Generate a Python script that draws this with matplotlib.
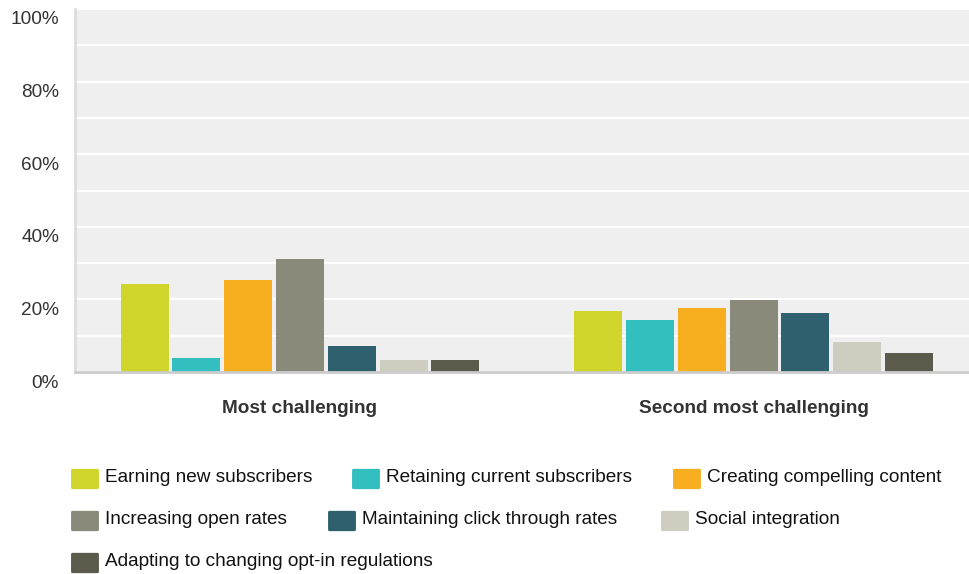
import numpy as np
import matplotlib
matplotlib.use('Agg')
import matplotlib.pyplot as plt
from matplotlib.patches import FancyBboxPatch
from matplotlib.transforms import ScaledTranslation

plt.rcParams['font.family'] = ['Liberation Sans', 'DejaVu Sans']

### DATA
groups = ['Most challenging', 'Second most challenging']
series = ['Earning new subscribers', 'Retaining current subscribers', 'Creating compelling content',
          'Increasing open rates', 'Maintaining click through rates', 'Social integration',
          'Adapting to changing opt-in regulations']
most = [24.3, 3.9, 25.4, 31.2, 7.2, 3.4, 3.4]
second = [16.9, 14.4, 17.7, 19.9, 16.3, 8.3, 5.3]
colors = ['#cfd52a', '#33bec0', '#f7ae1f', '#8a8a7a', '#2e606e', '#cecdc0', '#5c5a4b']

W, H = 969, 574
fs = 13.7
fig = plt.figure(figsize=(W/100, H/100), dpi=100)
ax = fig.add_axes([75/W, (H-372)/H, (W-75)/W, 363/H])
ax.set_facecolor('#efefef')

x = np.arange(len(groups))
pitch = 0.1142
bw = 0.106
for i, name in enumerate(series):
    vals = [most[i], second[i]]
    ax.bar(x + (i-3)*pitch, vals, width=bw, color=colors[i], zorder=3)

ax.set_xlim(-0.496, 1.475)
ax.set_ylim(0, 100)
ax.set_yticks(np.arange(0, 101, 20))
ax.set_yticks(np.arange(10, 100, 20), minor=True)
ax.yaxis.grid(True, which='both', color='white', linewidth=1.6, zorder=1)
ax.set_yticklabels([str(v)+'%' for v in range(0, 101, 20)])
ax.tick_params(axis='y', which='both', length=0, pad=11.5, labelsize=fs, labelcolor='#333333')
for lab in ax.get_yticklabels():
    lab.set_transform(lab.get_transform() + ScaledTranslation(0, -9/100, fig.dpi_scale_trans))

ax.set_xticks(x)
ax.set_xticklabels(groups, fontweight='bold', fontsize=fs, color='#333333')
ax.tick_params(axis='x', length=0, pad=20)

for s in ['top', 'right']:
    ax.spines[s].set_visible(False)
ax.spines['left'].set_color('#dddddd')
ax.spines['left'].set_linewidth(2)
ax.spines['bottom'].set_color('#cccccc')
ax.spines['bottom'].set_linewidth(2)
ax.spines['bottom'].set_zorder(4)

# legend, flow layout like the original (marker left x, row centre y) in pixels
leg_pos = [(71, 479), (352, 479), (673, 479), (71, 521), (328, 521), (661, 521), (71, 563)]
for i, name in enumerate(series):
    px, py = leg_pos[i]
    p = FancyBboxPatch(((px+2)/W, (H-py-9)/H), 24/W, 18/H,
                       boxstyle='round,pad=0.002', transform=fig.transFigure,
                       facecolor=colors[i], edgecolor='none')
    fig.patches.append(p)
    fig.text((px+34)/W, (H-py+1)/H, name, fontsize=fs, color='#111111', va='center', ha='left')

fig.savefig('out.png', dpi=100)
